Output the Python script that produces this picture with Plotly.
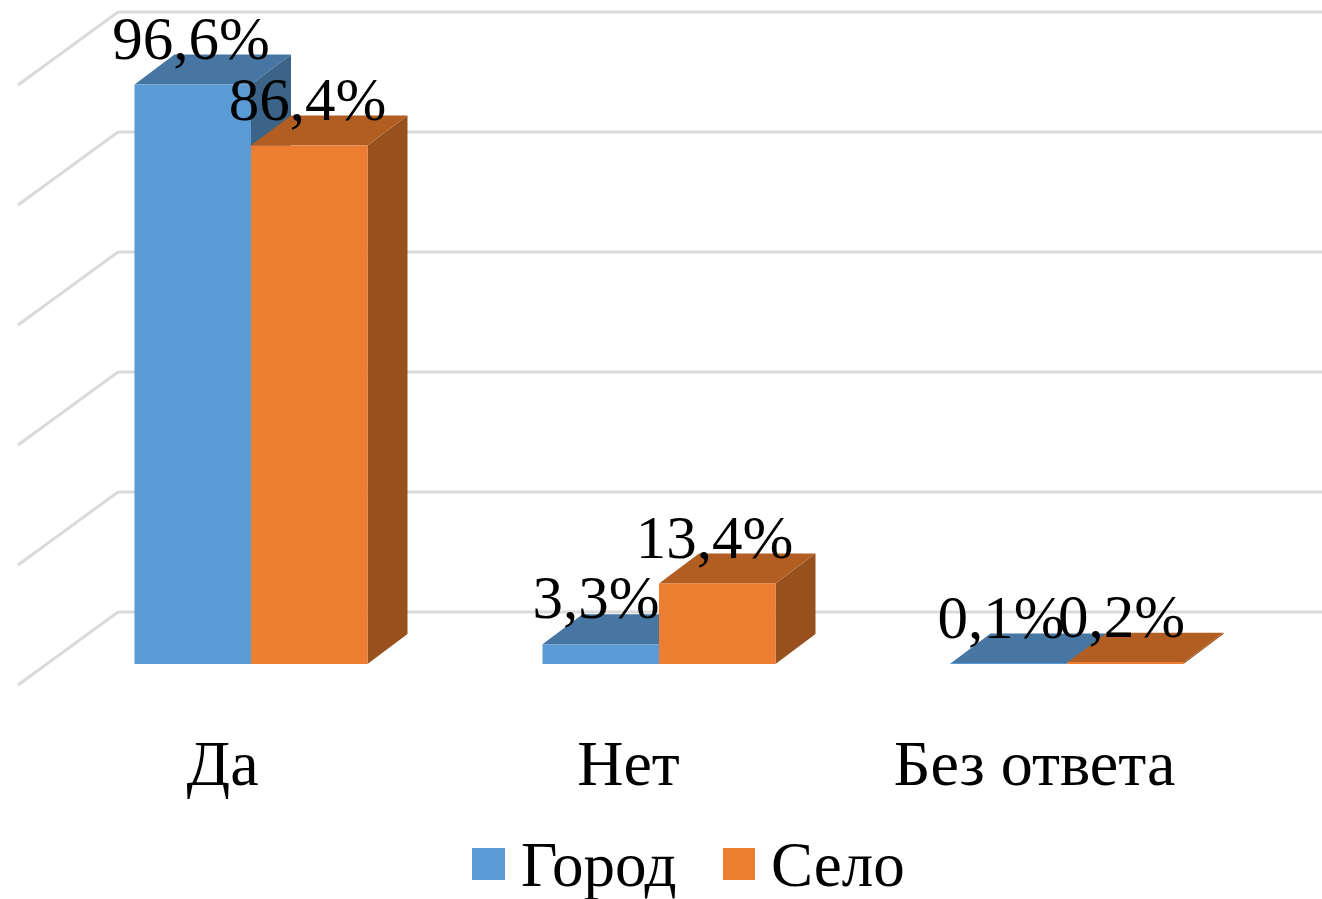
import plotly.graph_objects as go

categories = ["Да", "Нет", "Без ответа"]
gorod = [96.6, 3.3, 0.1]
selo = [86.4, 13.4, 0.2]
gorod_labels = ["96,6%", "3,3%", "0,1%"]
selo_labels = ["86,4%", "13,4%", "0,2%"]
grid_values = [0, 20, 40, 60, 80, 100]

W, H = 1322, 899
PLOT_H = 690
PX_X = 408.0          # pixels per category
PX_Y = 6.0            # pixels per percent
ORIGIN_X, ORIGIN_Y = 251.0, 664.0
FONT = "Liberation Serif"
FS_DATA = 61
FS_TEXT = 64
FS_LEGEND = 63

x_range = [-ORIGIN_X / PX_X, (W - ORIGIN_X) / PX_X]
y_range = [(ORIGIN_Y - PLOT_H) / PX_Y, ORIGIN_Y / PX_Y]

bar_w = 116.5 / PX_X
dx, dy = 40 / PX_X, 30 / PX_Y
positions = list(range(len(categories)))

fig = go.Figure()

# back wall and floor-side gridlines
wall_lx = (18 - ORIGIN_X) / PX_X
wall_bx = (118 - ORIGIN_X) / PX_X
back_off = (ORIGIN_Y - 612) / PX_Y
front_off = (ORIGIN_Y - 685) / PX_Y
for g in grid_values:
    fig.add_trace(go.Scatter(
        x=[wall_lx, wall_bx, x_range[1]],
        y=[g + front_off, g + back_off, g + back_off],
        mode="lines", line=dict(color="#DADADA", width=3), zorder=0,
        showlegend=False, hoverinfo="skip"))


def faces(vals, offset, top_col, side_col, z):
    for p, v in zip(positions, vals):
        x0, x1 = p + offset, p + offset + bar_w
        fig.add_trace(go.Scatter(
            x=[x1, x1 + dx, x1 + dx, x1, x1], y=[0, dy, v + dy, v, 0], zorder=z,
            mode="lines", fill="toself", fillcolor=side_col, line=dict(width=0, color=side_col),
            showlegend=False, hoverinfo="skip"))
        fig.add_trace(go.Scatter(
            x=[x0, x1, x1 + dx, x0 + dx, x0], y=[v, v, v + dy, v + dy, v], zorder=z,
            mode="lines", fill="toself", fillcolor=top_col, line=dict(width=0, color=top_col),
            showlegend=False, hoverinfo="skip"))


def front(vals, offset, name, col, z):
    fig.add_trace(go.Bar(
        x=[p + offset + bar_w / 2 for p in positions], y=vals, width=bar_w, zorder=z,
        name=name, marker=dict(color=col, line=dict(width=0)), showlegend=False))


faces(gorod, -bar_w, "#4676A1", "#3C6488", 1)
front(gorod, -bar_w, "Город", "#5B9BD5", 2)
faces(selo, 0, "#B25E23", "#98501D", 3)
front(selo, 0, "Село", "#ED7D31", 4)

LABEL_OFF = 41 / PX_Y
fig.add_trace(go.Scatter(
    x=[(191 + 405 * p - ORIGIN_X) / PX_X for p in positions], zorder=5,
    y=[v + LABEL_OFF for v in gorod], text=gorod_labels, mode="text",
    textposition="middle center", textfont=dict(family=FONT, size=FS_DATA, color="#000"),
    showlegend=False, hoverinfo="skip", cliponaxis=False))
fig.add_trace(go.Scatter(
    x=[(307.5 + 407 * p - ORIGIN_X) / PX_X for p in positions], zorder=5,
    y=[v + LABEL_OFF for v in selo], text=selo_labels, mode="text",
    textposition="middle center", textfont=dict(family=FONT, size=FS_DATA, color="#000"),
    showlegend=False, hoverinfo="skip", cliponaxis=False))

# category labels sit left of the bar groups, with a slightly tighter pitch
tick_vals = [(222.5 + 406 * p - ORIGIN_X) / PX_X for p in positions]


def pxx(p):
    return p / W


def pxy(p):
    return (PLOT_H - p) / PLOT_H


legend_items = [("Город", "#5B9BD5", 472, 505, 519), ("Село", "#ED7D31", 723, 755, 769)]
shapes, annos = [], []
for name, col, a, b, t in legend_items:
    shapes.append(dict(type="rect", xref="paper", yref="paper", x0=pxx(a), x1=pxx(b),
                       y0=pxy(880), y1=pxy(848), fillcolor=col, line=dict(width=0)))
    annos.append(dict(text=name, xref="paper", yref="paper", x=pxx(t), y=pxy(865),
                      xanchor="left", yanchor="middle", showarrow=False,
                      font=dict(family=FONT, size=FS_LEGEND, color="#000")))

fig.update_layout(
    width=W, height=H, margin=dict(l=0, r=0, t=0, b=H - PLOT_H),
    paper_bgcolor="#fff", plot_bgcolor="#fff", barmode="overlay", showlegend=False,
    xaxis=dict(range=x_range, tickmode="array",
               tickvals=tick_vals, ticktext=categories,
               showgrid=False, zeroline=False, showline=False, ticks="outside",
               ticklen=17, tickcolor="rgba(0,0,0,0)",
               tickfont=dict(family=FONT, size=FS_TEXT, color="#000")),
    yaxis=dict(range=y_range, showgrid=False, zeroline=False, showline=False,
               showticklabels=False, ticks=""),
    shapes=shapes, annotations=annos)

fig.write_html("out.html", config=dict(displayModeBar=False),
               post_script="document.body.style.margin='0';document.body.style.overflow='hidden';")
